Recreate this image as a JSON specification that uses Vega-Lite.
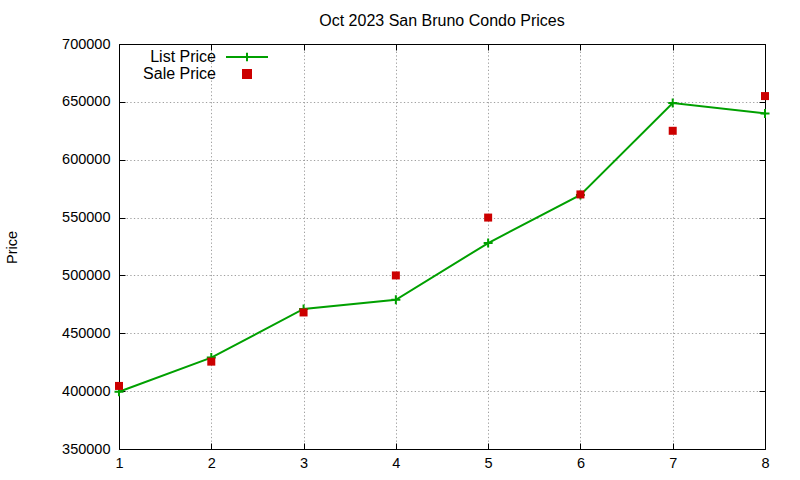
{
  "$schema": "https://vega.github.io/schema/vega-lite/v6.json",
  "width": 646,
  "height": 405,
  "autosize": {"type": "none"},
  "padding": {"left": 119, "top": 44, "right": 35, "bottom": 31},
  "background": "white",
  "config": {
    "font": "Liberation Sans",
    "view": {"stroke": null}
  },
  "title": {
    "text": "Oct 2023 San Bruno Condo Prices",
    "fontSize": 16,
    "fontWeight": "normal",
    "color": "black",
    "anchor": "middle",
    "offset": 7
  },
  "data": {
    "values": [
      {"unit": 1, "price": 399500, "series": "List Price"},
      {"unit": 2, "price": 429000, "series": "List Price"},
      {"unit": 3, "price": 471000, "series": "List Price"},
      {"unit": 4, "price": 479000, "series": "List Price"},
      {"unit": 5, "price": 528000, "series": "List Price"},
      {"unit": 6, "price": 569500, "series": "List Price"},
      {"unit": 7, "price": 649000, "series": "List Price"},
      {"unit": 8, "price": 640000, "series": "List Price"},
      {"unit": 1, "price": 404500, "series": "Sale Price"},
      {"unit": 2, "price": 425500, "series": "Sale Price"},
      {"unit": 3, "price": 468000, "series": "Sale Price"},
      {"unit": 4, "price": 500000, "series": "Sale Price"},
      {"unit": 5, "price": 550000, "series": "Sale Price"},
      {"unit": 6, "price": 570000, "series": "Sale Price"},
      {"unit": 7, "price": 625000, "series": "Sale Price"},
      {"unit": 8, "price": 655000, "series": "Sale Price"}
    ]
  },
  "resolve": {"axis": {"x": "independent", "y": "independent"}},
  "layer": [
    {
      "transform": [{"filter": "datum.series == 'List Price'"}],
      "mark": {"type": "line", "strokeWidth": 2},
      "encoding": {
        "x": {
          "field": "unit",
          "type": "quantitative",
          "scale": {"domain": [1, 8], "nice": false, "zero": false},
          "axis": {
            "title": null,
            "values": [1, 2, 3, 4, 5, 6, 7, 8],
            "format": "d",
            "labelFontSize": 14.5,
            "labelColor": "black",
            "labelPadding": 13,
            "tickSize": -6,
            "tickColor": "black",
            "domainColor": "black",
            "gridColor": "#a0a0a0",
            "gridDash": [1.3, 2.3],
            "labelFlush": false
          }
        },
        "y": {
          "field": "price",
          "type": "quantitative",
          "scale": {"domain": [350000, 700000], "nice": false, "zero": false},
          "axis": {
            "title": "Price",
            "titleFontSize": 14.5,
            "titleFontWeight": "normal",
            "titleColor": "black",
            "titleX": -107,
            "titleY": 203,
            "titleAlign": "center",
            "titleBaseline": "middle",
            "values": [350000, 400000, 450000, 500000, 550000, 600000, 650000, 700000],
            "format": "d",
            "labelFontSize": 14.5,
            "labelColor": "black",
            "labelPadding": 15,
            "tickSize": -6,
            "tickColor": "black",
            "domainColor": "black",
            "gridColor": "#a0a0a0",
            "gridDash": [1.3, 2.3],
            "labelFlush": false
          }
        },
        "color": {
          "field": "series",
          "type": "nominal",
          "scale": {"domain": ["List Price", "Sale Price"], "range": ["#00a000", "#cc0000"]},
          "legend": {
            "title": null,
            "orient": "none",
            "legendX": 120,
            "legendY": 5,
            "padding": 0,
            "offset": 0,
            "labelFontSize": 16,
            "labelColor": "black",
            "labelAlign": "right",
            "labelOffset": -39,
            "symbolSize": 441,
            "symbolType": "M-2,0H2M0,-0.4V0.4",
            "symbolStrokeWidth": 2,
            "rowPadding": -6,
            "encode": {
              "symbols": {
                "update": {
                  "shape": {"signal": "datum.value == 'List Price' ? 'M-2,0H2M0,-0.4V0.4' : 'square'"},
                  "size": {"signal": "datum.value == 'List Price' ? 441 : 64"},
                  "fill": {"signal": "datum.value == 'List Price' ? 'transparent' : '#cc0000'"},
                  "stroke": {"signal": "datum.value == 'List Price' ? '#00a000' : 'transparent'"},
                  "strokeWidth": {"value": 2},
                  "opacity": {"value": 1}
                }
              }
            }
          }
        }
      }
    },
    {
      "transform": [{"filter": "datum.series == 'List Price'"}],
      "mark": {
        "type": "point",
        "shape": "M-1,0H1M0,-1V1",
        "filled": false,
        "size": 81,
        "strokeWidth": 2,
        "color": "#00a000",
        "opacity": 1
      },
      "encoding": {
        "x": {"field": "unit", "type": "quantitative", "axis": null},
        "y": {"field": "price", "type": "quantitative", "axis": null}
      }
    },
    {
      "transform": [{"filter": "datum.series == 'Sale Price'"}],
      "mark": {"type": "square", "size": 64, "opacity": 1},
      "encoding": {
        "x": {
          "field": "unit",
          "type": "quantitative",
          "axis": {
            "orient": "top",
            "title": null,
            "values": [1, 2, 3, 4, 5, 6, 7, 8],
            "labels": false,
            "grid": false,
            "tickSize": -6,
            "tickColor": "black",
            "domainColor": "black"
          }
        },
        "y": {
          "field": "price",
          "type": "quantitative",
          "axis": {
            "orient": "right",
            "title": null,
            "values": [350000, 400000, 450000, 500000, 550000, 600000, 650000, 700000],
            "labels": false,
            "grid": false,
            "tickSize": -6,
            "tickColor": "black",
            "domainColor": "black"
          }
        },
        "color": {"field": "series", "type": "nominal"}
      }
    }
  ]
}
